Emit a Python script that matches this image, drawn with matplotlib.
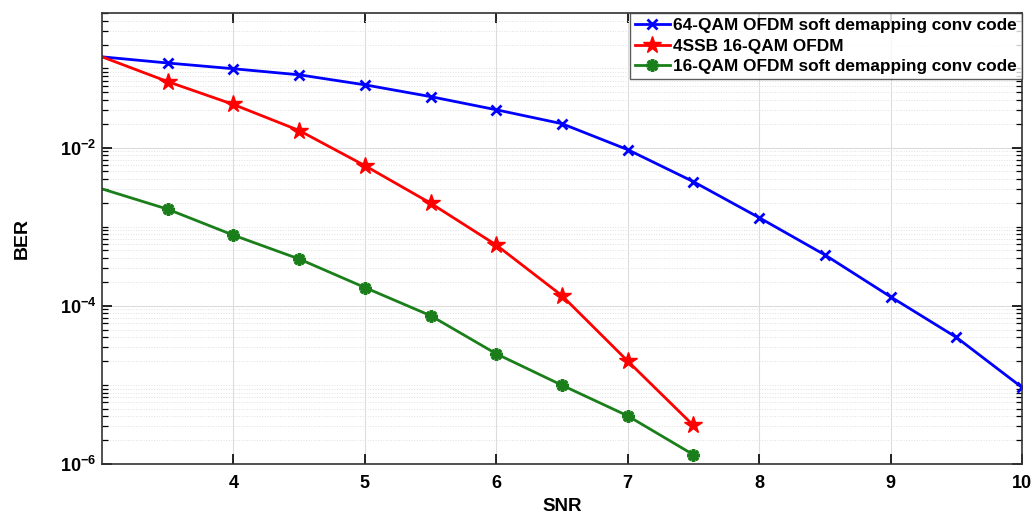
import numpy as np
import matplotlib
matplotlib.use("Agg")
import matplotlib.pyplot as plt
from matplotlib.ticker import LogLocator, NullFormatter, FixedLocator, FuncFormatter

plt.rcParams['font.family'] = ['Liberation Sans', 'DejaVu Sans']
plt.rcParams['mathtext.fontset'] = 'custom'
plt.rcParams['mathtext.bf'] = 'Liberation Sans:bold'
plt.rcParams['mathtext.rm'] = 'Liberation Sans:bold'

# data
snr_64 = [3, 3.5, 4, 4.5, 5, 5.5, 6, 6.5, 7, 7.5, 8, 8.5, 9, 9.5, 10]
ber_64 = [0.14, 0.117, 0.099, 0.083, 0.062, 0.044, 0.030, 0.020, 0.0094,
          0.0037, 0.0013, 4.4e-4, 1.3e-4, 4.0e-5, 9.3e-6]

snr_ssb = [3, 3.5, 4, 4.5, 5, 5.5, 6, 6.5, 7, 7.5]
ber_ssb = [0.14, 0.068, 0.035, 0.0164, 0.0059, 0.00198, 5.85e-4, 1.34e-4,
           2.0e-5, 3.07e-6]

snr_16 = [3, 3.5, 4, 4.5, 5, 5.5, 6, 6.5, 7, 7.5]
ber_16 = [0.0030, 0.00166, 7.8e-4, 3.9e-4, 1.7e-4, 7.5e-5, 2.47e-5, 9.9e-6,
          4.06e-6, 1.31e-6]

labels = ['64-QAM OFDM soft demapping conv code',
          '4SSB 16-QAM OFDM',
          '16-QAM OFDM soft demapping conv code']

fig = plt.figure(figsize=(10.35, 5.24), dpi=100)
ax = fig.add_axes([0.0986, 0.1145, 0.8888, 0.8605])

# first point sits on the left edge, no marker drawn there in the original
ax.semilogy(snr_64, ber_64, color='#0000ff', lw=2, marker='x', ms=7, mew=2,
            markevery=slice(1, None), label=labels[0])
ax.semilogy(snr_ssb, ber_ssb, color='#ff0000', lw=2, marker='*', ms=13,
            markevery=slice(1, None), label=labels[1])
ax.semilogy(snr_16, ber_16, color='#1a7f1a', lw=2, marker=(8, 2, 0), ms=9,
            mew=2.5, markevery=slice(1, None), label=labels[2])

ax.set_xlim(3, 10)
ax.set_ylim(1e-6, 0.5)
ax.xaxis.set_major_locator(FixedLocator([4, 5, 6, 7, 8, 9, 10]))
ax.yaxis.set_major_locator(FixedLocator([1e-6, 1e-4, 1e-2]))
ax.yaxis.set_major_formatter(FuncFormatter(
    lambda v, p: r'$\mathbf{10^{%d}}$' % int(round(np.log10(v)))))
ax.yaxis.set_minor_locator(LogLocator(base=10, subs=np.arange(1, 10), numticks=20))
ax.yaxis.set_minor_formatter(NullFormatter())

ax.grid(True, which='major', color='#dcdcdc', lw=0.8)
ax.grid(True, which='minor', axis='y', color='#e0e0e0', lw=0.7, ls=':')
ax.set_axisbelow(True)

ax.tick_params(which='both', direction='in', top=True, right=True)
ax.tick_params(which='major', length=7, width=1.2, labelsize=13, pad=8)
ax.tick_params(axis='y', which='major', pad=4)
ax.tick_params(which='minor', length=4, width=0.9)
for lab in ax.get_xticklabels() + ax.get_yticklabels():
    lab.set_fontweight('bold')
for sp in ax.spines.values():
    sp.set_linewidth(1.2)
    sp.set_color('#333333')

ax.set_xlabel('SNR', fontsize=13.5, fontweight='bold', labelpad=4)
ax.set_ylabel('BER', fontsize=14, fontweight='bold', labelpad=21)

leg = ax.legend(loc='upper right', prop={'weight': 'bold', 'size': 12.4},
                frameon=True, fancybox=False, borderaxespad=0.0,
                handlelength=2.0, handletextpad=0.2, borderpad=0.3,
                labelspacing=0.3)
leg.get_frame().set_edgecolor('#333333')
leg.get_frame().set_linewidth(1.0)

fig.savefig('out.png', dpi=100)
